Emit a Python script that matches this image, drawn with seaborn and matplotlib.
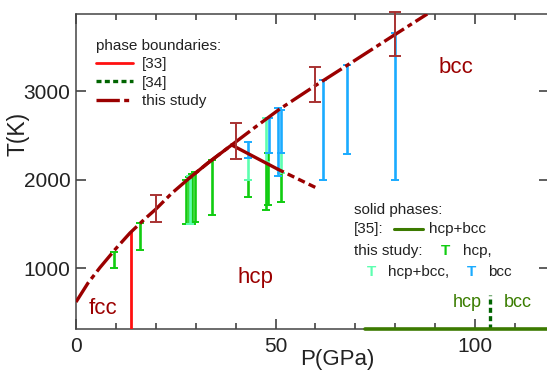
import matplotlib
matplotlib.use("Agg")
import matplotlib.pyplot as plt
import seaborn as sns
import pandas as pd

# ---------------- data ----------------
# melting curve (this study)
P_melt = [0, 3, 6, 10, 13.5, 17, 20, 24, 28.5, 33, 39, 45, 51, 60, 70, 80, 88]
T_melt = [616, 830, 1005, 1220, 1395, 1545, 1665, 1845, 2020, 2185, 2390, 2595, 2795, 3062, 3350, 3640, 3870]
# solid part of melting curve
P_melt_solid = [28.5, 33, 39]
T_melt_solid = [2020, 2185, 2390]
# hcp-bcc boundary (this study)
P_hb = [39, 50.4, 60]
T_hb = [2390, 2120, 1910]
# [33] fcc-hcp boundary
P_33 = [13.8, 13.8]
T_33 = [311, 1405]
# [34] hcp-bcc boundary
P_34 = [103.8, 103.8]
T_34 = [311, 700]
# [35] hcp+bcc region
P_35 = [72.4, 118.5]
T_35 = [311, 311]
# melting error bars
P_err = [20, 40, 60, 80]
T_err_lo = [1520, 2237, 2876, 3395]
T_err_hi = [1825, 2633, 3271, 3893]

# solid-phase bars of this study
hcp_P = [9.6, 16, 27.5, 28.2, 29.0, 29.8, 34, 43, 47.6, 48.2, 51.4]
hcp_lo = [1000, 1200, 1500, 1500, 1500, 1520, 1600, 1800, 1655, 1712, 1745]
hcp_hi = [1180, 1510, 2000, 2030, 2060, 2090, 2220, 2000, 2200, 2300, 2070]

mix_P = [28.6, 43, 47.6, 51.4]
mix_lo = [1500, 2000, 2200, 2070]
mix_hi = [2040, 2243, 2700, 2300]

bcc_P = [43, 48.3, 50.5, 51.4, 62, 68, 80]
bcc_lo = [2243, 2300, 2040, 2300, 2000, 2290, 2000]
bcc_hi = [2424, 2700, 2810, 2790, 3124, 3294, 3650]

# ---------------- style ----------------
sns.set_style("ticks")
plt.rcParams["font.family"] = ["Liberation Sans", "DejaVu Sans"]

DARKRED = "#9b0000"
ERRRED = "#a83232"
C_HCP = "#11cc11"
C_MIX = "#5dffb0"
C_BCC = "#1aabff"
C_GREEN_TXT = "#3a7d00"

fig = plt.figure(figsize=(5.47, 3.71), dpi=100)
ax = fig.add_axes([76 / 547, 1 - 329 / 371, 473 / 547, 315 / 371])

# bars
for P, lo, hi, c in [(hcp_P, hcp_lo, hcp_hi, C_HCP),
                     (mix_P, mix_lo, mix_hi, C_MIX),
                     (bcc_P, bcc_lo, bcc_hi, C_BCC)]:
    yerr = [[0] * len(P), [h - l for h, l in zip(hi, lo)]]
    ax.errorbar(P, lo, yerr=yerr, fmt="none", ecolor=c, elinewidth=1.9,
                capsize=3, capthick=1.4, zorder=3)

# literature boundaries
sns.lineplot(x=P_33, y=T_33, ax=ax, color="#ff1010", lw=2.0, estimator=None,
             sort=False, label="[33]", zorder=4)
sns.lineplot(x=P_34, y=T_34, ax=ax, color="#006400", lw=2.4, estimator=None,
             sort=False, linestyle=(0, (1.5, 1.0)), label="[34]", zorder=4)
ax.plot(P_35, T_35, color="#3c7a00", lw=2.6, clip_on=False, zorder=6)

# this study
sns.lineplot(x=P_melt, y=T_melt, ax=ax, color=DARKRED, lw=2.4, estimator=None,
             sort=False, linestyle=(0, (7, 1.3, 1.5, 1.3)), label="this study", zorder=5)
ax.plot(P_melt_solid, T_melt_solid, color=DARKRED, lw=2.4, zorder=5)
ax.plot(P_hb[:2], T_hb[:2], color=DARKRED, lw=2.4, zorder=5)
ax.plot(P_hb[1:], T_hb[1:], color=DARKRED, lw=2.4, linestyle=(0, (2.2, 1.3)), zorder=5)

# melting error bars
mid = [(l + h) / 2 for l, h in zip(T_err_lo, T_err_hi)]
yerr = [[m - l for m, l in zip(mid, T_err_lo)], [h - m for h, m in zip(T_err_hi, mid)]]
eb = ax.errorbar(P_err, mid, yerr=yerr, fmt="none", ecolor=ERRRED, elinewidth=1.4,
                 capsize=4, capthick=1.4, zorder=6)
for art in list(eb.lines[1]) + list(eb.lines[2]):
    art.set_clip_on(False)

# axes
ax.set_xlim(0, 118.5)
ax.set_ylim(311, 3870)
ax.set_xticks([0, 50, 100])
ax.set_xticks(range(0, 120, 10), minor=True)
ax.set_yticks([1000, 2000, 3000])
ax.tick_params(axis="both", which="major", direction="in", length=7, width=1.1,
               labelsize=15, colors="#333333", labelcolor="#222222",
               top=True, right=True)
ax.tick_params(axis="both", which="minor", direction="in", length=4, width=1.1,
               colors="#333333", top=True, right=True)
ax.tick_params(axis="x", which="major", pad=6)
ax.tick_params(axis="y", which="major", pad=4)
for s in ["left", "bottom", "top"]:
    ax.spines[s].set_color("#444444")
    ax.spines[s].set_linewidth(1.1)
ax.spines["right"].set_visible(False)

ax.set_xlabel("P(GPa)", fontsize=16, color="#222222")
ax.xaxis.set_label_coords(0.552, -0.062)
ax.set_ylabel("T(K)", fontsize=16.5, color="#222222")
ax.yaxis.set_label_coords(-0.098, 0.62)

# region labels
ax.text(6.7, 548, "fcc", color=DARKRED, fontsize=16, ha="center", va="center")
ax.text(45, 898, "hcp", color=DARKRED, fontsize=16, ha="center", va="center")
ax.text(95.2, 3260, "bcc", color=DARKRED, fontsize=16, ha="center", va="center")
ax.text(98, 605, "hcp", color=C_GREEN_TXT, fontsize=13, ha="center", va="center")
ax.text(110.8, 605, "bcc", color=C_GREEN_TXT, fontsize=13, ha="center", va="center")

# legend (phase boundaries)
handles, labels = ax.get_legend_handles_labels()
leg = ax.legend(handles, labels, title="phase boundaries:", loc="upper left",
                bbox_to_anchor=(0.042, 0.92), frameon=False, fontsize=11,
                title_fontsize=11, alignment="left", handlelength=2.4,
                handletextpad=0.6, labelspacing=0.28, borderpad=0, borderaxespad=0)
for t in leg.get_texts():
    t.set_color("#222222")
leg.get_title().set_color("#222222")

# solid phases annotation
fs = 11
tc = "#222222"
ax.text(0.588, 0.378, "solid phases:", transform=ax.transAxes, fontsize=fs, color=tc, va="center")
ax.text(0.588, 0.317, "[35]:", transform=ax.transAxes, fontsize=fs, color=tc, va="center")
ax.plot([0.672, 0.734], [0.317, 0.317], transform=ax.transAxes, color="#3c7a00", lw=2.2)
ax.text(0.746, 0.317, "hcp+bcc", transform=ax.transAxes, fontsize=fs, color=tc, va="center")
ax.text(0.588, 0.248, "this study:", transform=ax.transAxes, fontsize=fs, color=tc, va="center")
ax.text(0.782, 0.248, "T", transform=ax.transAxes, fontsize=fs, color=C_HCP, va="center",
        ha="center", fontweight="bold")
ax.text(0.818, 0.248, "hcp,", transform=ax.transAxes, fontsize=fs, color=tc, va="center")
ax.text(0.624, 0.181, "T", transform=ax.transAxes, fontsize=fs, color=C_MIX, va="center",
        ha="center", fontweight="bold")
ax.text(0.660, 0.181, "hcp+bcc,", transform=ax.transAxes, fontsize=fs, color=tc, va="center")
ax.text(0.837, 0.181, "T", transform=ax.transAxes, fontsize=fs, color=C_BCC, va="center",
        ha="center", fontweight="bold")
ax.text(0.871, 0.181, "bcc", transform=ax.transAxes, fontsize=fs, color=tc, va="center")

fig.savefig("out.png", dpi=100)
